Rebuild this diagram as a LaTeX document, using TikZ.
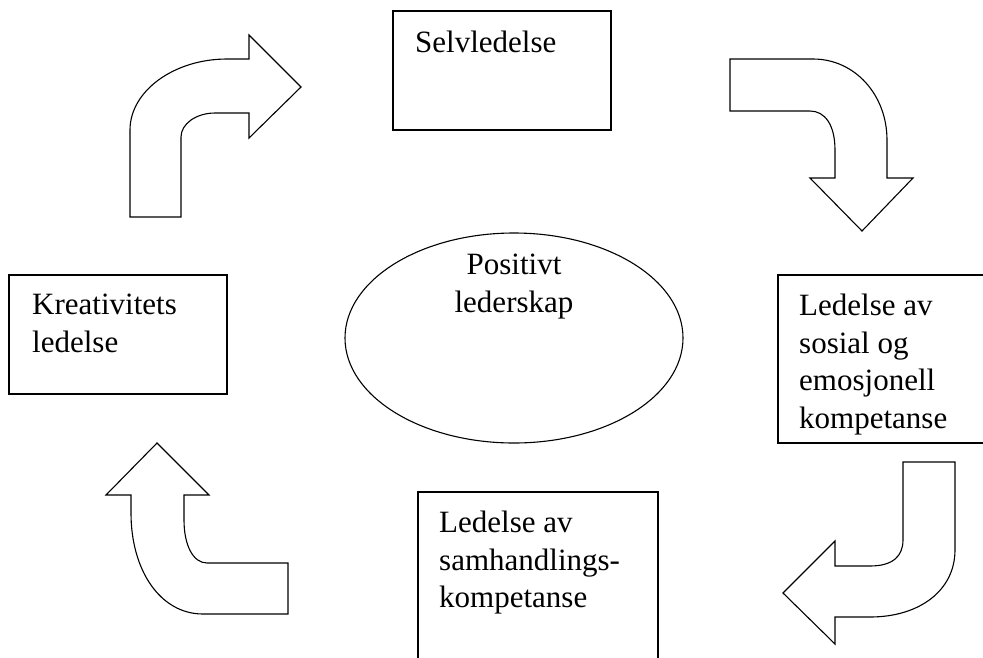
\documentclass[tikz,border=0pt]{standalone}
\usepackage{fontspec}
\setmainfont{Liberation Serif}
\usepackage{tikz}
\usetikzlibrary{positioning,shapes.geometric}

\begin{document}
\begin{tikzpicture}[x=1pt, y=-1pt,
    boks/.style={rectangle, draw, line width=1.1pt, inner sep=0pt},
    tekst/.style={anchor=north west, inner sep=0pt, align=left, font=\fontsize{31}{37.5}\selectfont},
    pil/.style={draw, line width=1.1pt, line join=miter}]
  \useasboundingbox (0,0) rectangle (983,657);
  \clip (0,0) rectangle (983,657);

  % Boksene
  \node[boks, minimum width=218pt, minimum height=119pt] (selv) at (502,70.5) {};
  \node[boks, minimum width=218pt, minimum height=119pt] (krea) at (118,334.5) {};
  \node[boks, minimum width=220pt, minimum height=168pt] (sosial) at (888,359) {};
  \node[boks, minimum width=240pt, minimum height=190pt] (samh) at (538,587) {};

  % Midten
  \node[ellipse, draw, line width=1.1pt, minimum width=338pt, minimum height=210pt] (leder) at (514,338) {};

  % Tekster
  \node[tekst] (selvtxt) at (415,31) {Selvledelse};
  \node[tekst] (kreatxt) at (32,294) {Kreativitets\\ledelse};
  \node[tekst] (sosialtxt) at (799,294) {Ledelse av\\sosial og\\emosjonell\\kompetanse};
  \node[tekst] (samhtxt) at (439,511) {Ledelse av\\samhandlings-\\kompetanse};
  \node[tekst, anchor=north, align=center] (ledertxt) at (514,254) {Positivt\\lederskap};

  % Pilene
  \draw[pil] (130,217) -- (130,130) .. controls (130,91) and (174,59) .. (227,59)
    -- (249,59) -- (249,35) -- (301,87) -- (249,138) -- (249,113) -- (215,113)
    .. controls (196,113) and (181,124) .. (181,137) -- (181,217) -- cycle;
  \draw[pil] (730,59) -- (813,59) .. controls (855,59) and (887,95) .. (887,140)
    -- (887,178) -- (913,178) -- (862,231) -- (810,178) -- (835,178) -- (835,150)
    .. controls (835,125) and (825,111) .. (810,111) -- (730,111) -- cycle;
  \draw[pil] (903,462) -- (955,462) -- (955,550) .. controls (955,590) and (920,617) .. (870,617)
    -- (835,617) -- (835,644) -- (783,593) -- (835,541) -- (835,566) -- (870,566)
    .. controls (893,566) and (903,556) .. (903,540) -- cycle;
  \draw[pil] (288,563) -- (288,614) -- (203,614) .. controls (160,614) and (131,570) .. (131,513)
    -- (131,495) -- (106,495) -- (157,443) -- (209,495) -- (184,495) -- (184,520)
    .. controls (184,545) and (193,563) .. (207,563) -- cycle;
\end{tikzpicture}
\end{document}
